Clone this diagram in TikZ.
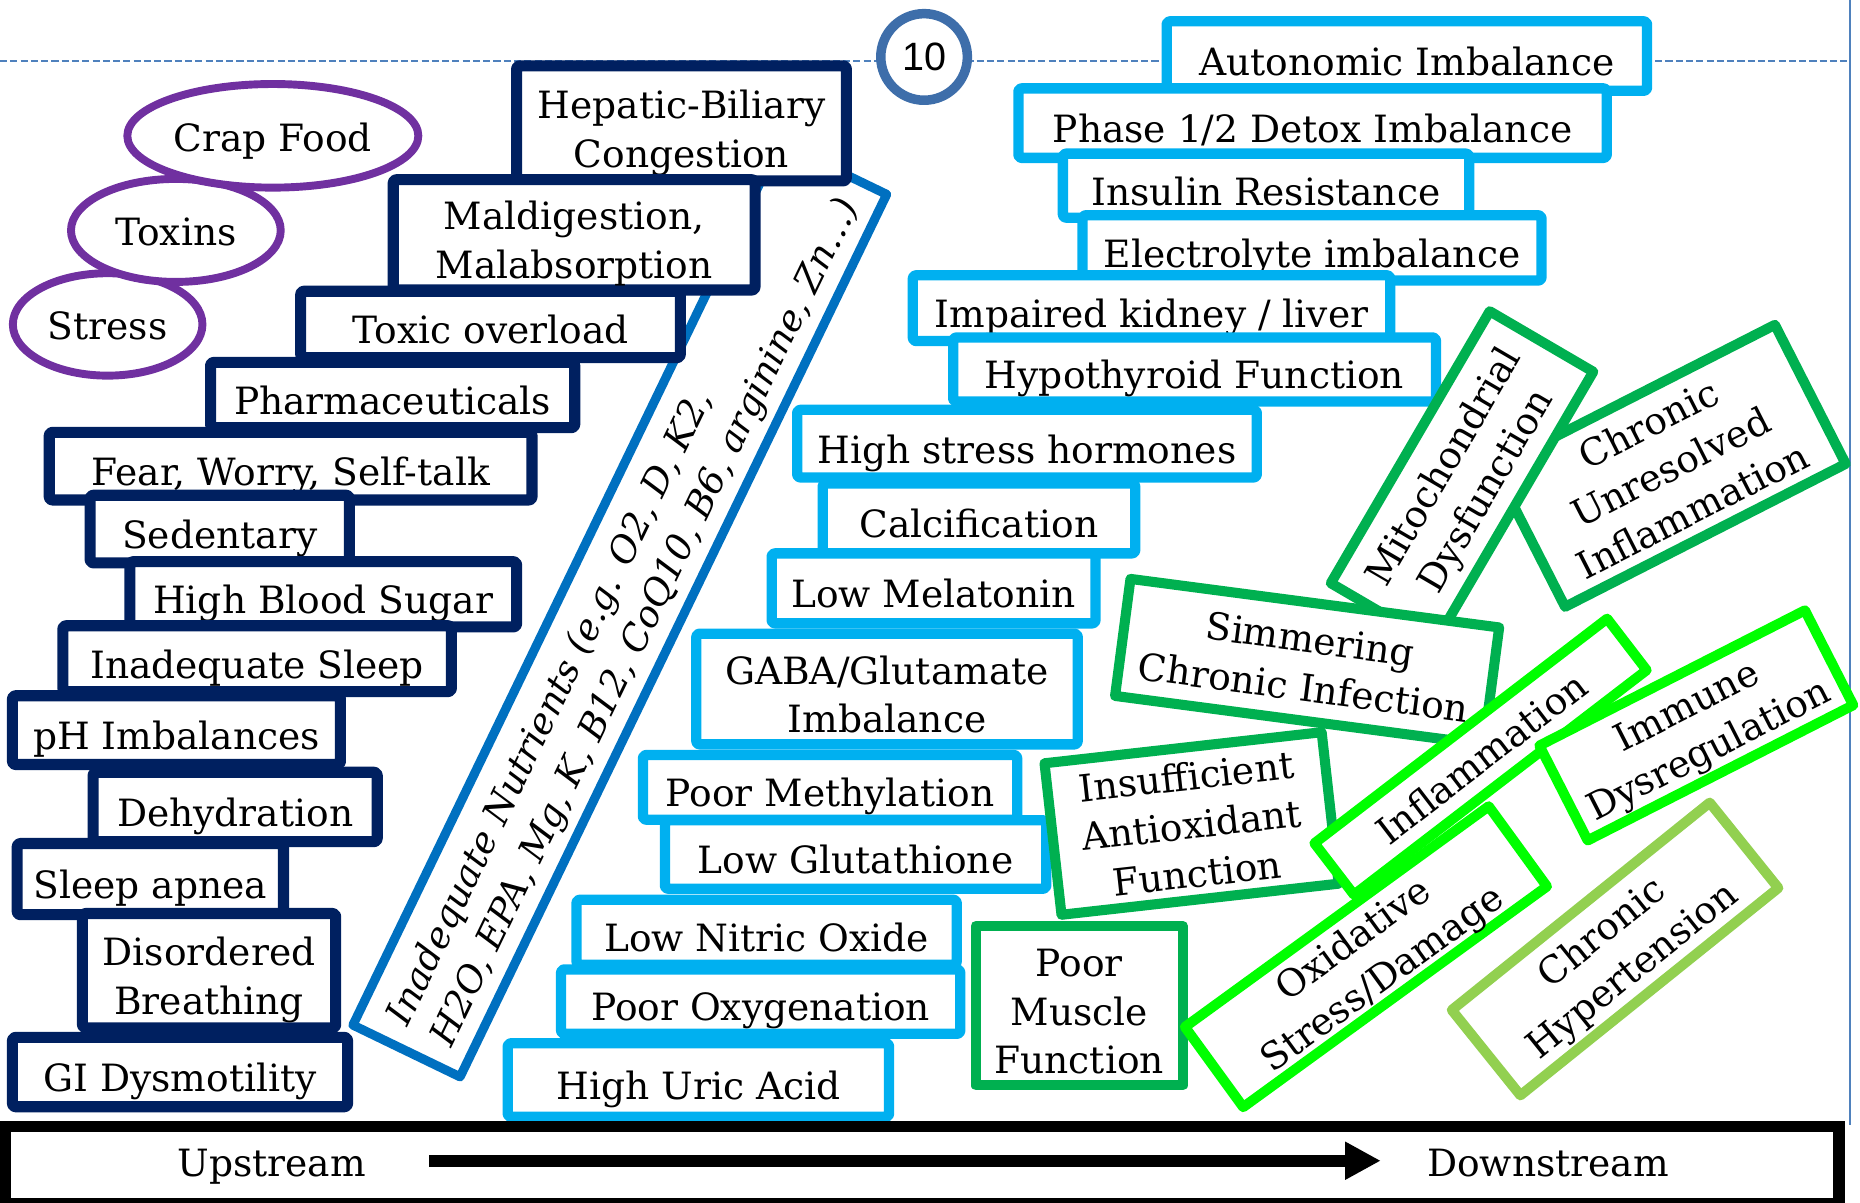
\documentclass[tikz,border=0pt]{standalone}
\usepackage{fontspec}
\usepackage{array}
\setmainfont{DejaVu Serif}
\newfontfamily\numfont{Liberation Sans}
\usetikzlibrary{shapes.geometric,arrows.meta}
\definecolor{navy}{HTML}{002060}
\definecolor{sky}{HTML}{00B0F0}
\definecolor{bandblue}{HTML}{0070C0}
\definecolor{purp}{HTML}{7030A0}
\definecolor{midgreen}{HTML}{00B050}
\definecolor{brightgreen}{HTML}{00FF00}
\definecolor{lightgreen}{HTML}{92D050}
\definecolor{ringblue}{HTML}{3E6EAA}
\definecolor{dashblue}{HTML}{4F81BD}
\newcommand\myrowstrut{\rule[-4.6pt]{0pt}{24.6pt}}
% multi-line text block with fixed line pitch
\newcommand\ml[2][c]{{\renewcommand\arraystretch{0}\begin{tabular}{@{}>{\myrowstrut}#1@{}}#2\end{tabular}}}
% same, drawn slightly lower while keeping its measured extent
\newcommand\mlo[1]{\raisebox{-2.1pt}[\height][\depth]{\ml{#1}}}
% box by outer edges: style, name, x1, y1, x2, y2, text
\newcommand\bx[7]{\node[#1, minimum width={(#5-#3)*0.6pt-5.4pt}, minimum height={(#6-#4)*0.6pt-5.4pt}] (#2) at ({(#3+#5)/2},{(#4+#6)/2}) {\mlo{#7}};}
% rotated box: style, name, cx, cy, angle, outer long, outer short, text
\newcommand\rbx[8]{\node[#1, rotate=#5, minimum width={#6*0.6pt-5.1pt}, minimum height={#7*0.6pt-5.1pt}] (#2) at (#3,#4) {\ml{#8}};}
\begin{document}
\begin{tikzpicture}[x=0.6pt,y=-0.6pt,
  txt/.style={font=\fontsize{19}{24}\selectfont, inner sep=0pt},
  lbl/.style={txt, fill=white, line join=round},
  navybox/.style={lbl, draw=navy, line width=5.6pt, rounded corners=1.5pt},
  skybox/.style={lbl, draw=sky, line width=5.2pt, rounded corners=1.5pt},
  greenbox/.style={lbl, draw=midgreen, line width=5.1pt},
  limebox/.style={lbl, draw=brightgreen, line width=5.1pt},
  lgbox/.style={lbl, draw=lightgreen, line width=5.1pt},
  oval/.style={lbl, ellipse, draw=purp, line width=4pt},
  blackbox/.style={draw=black, line width=5.7pt, inner sep=0pt},
  bandbox/.style={draw=bandblue, line width=4.6pt, fill=white, inner sep=0pt, line join=round,
    font=\fontsize{18.5}{24}\selectfont\itshape},
  bigarrow/.style={line width=6pt, -{Triangle[length=18pt,width=18pt]}}]
\useasboundingbox (0,0) rectangle (1568,1014);
% guide lines
\draw[dashblue, line width=1pt, dash pattern=on 3.6pt off 1.6pt] (0,51.4) -- (1559.5,51.4);
\draw[dashblue, line width=1pt] (1559.5,0) -- (1559.5,948);
% nutrients band
\node[bandbox, rotate=64.2, minimum width={834*0.6pt-4.6pt}, minimum height={108*0.6pt-4.6pt}] (nut) at (522.5,514)
  {\ml[l]{Inadequate Nutrients (e.g. O2, D, K2,\\H2O, EPA, Mg, K, B12, CoQ10, B6, arginine, Zn…)}};
% ovals
\node[oval, minimum width={166.5*0.6pt-4pt}, minimum height={93*0.6pt-4pt}] (stress) at (90.75,273.5) {\ml{Stress}};
\node[oval, minimum width={183.5*0.6pt-4pt}, minimum height={93.5*0.6pt-4pt}] (toxins) at (148.25,194.25) {\ml{Toxins}};
\node[oval, minimum width={252*0.6pt-4pt}, minimum height={94*0.6pt-4pt}] (crap) at (230,114.5) {\ml{Crap Food}};
% navy boxes
\bx{navybox}{hep}{431}{51}{718}{157}{Hepatic-Biliary\\Congestion}
\bx{navybox}{mal}{327}{147}{641}{249}{Maldigestion,\\Malabsorption}
\bx{navybox}{tox}{249}{241}{578}{306}{Toxic overload}
\bx{navybox}{pha}{173}{301}{489}{365}{Pharmaceuticals}
\bx{navybox}{fea}{37}{360}{453}{426}{Fear, Worry, Self-talk}
\bx{navybox}{sed}{71.5}{413}{299}{479}{Sedentary}
\bx{navybox}{hbs}{105}{469}{440}{533}{High Blood Sugar}
\bx{navybox}{isl}{48.5}{523}{385}{587.5}{Inadequate Sleep}
\bx{navybox}{ph}{6}{582}{291.5}{649}{pH Imbalances}
\bx{navybox}{deh}{74}{646.5}{322.5}{714}{Dehydration}
\bx{navybox}{apn}{10}{706.6}{243.5}{775.6}{Sleep apnea}
\bx{navybox}{dis}{65}{765.6}{287.5}{871}{Disordered\\Breathing}
\bx{navybox}{gid}{6}{870}{297.5}{937.5}{GI Dysmotility}
% page number
\node[circle, draw=ringblue, line width=4.8pt, fill=white, inner sep=0pt, minimum size={73*0.6pt},
  font=\numfont\fontsize{20}{24}\selectfont] (num) at (779,48) {10};
% light blue boxes
\bx{skybox}{aut}{979}{13.5}{1393}{81}{Autonomic Imbalance}
\bx{skybox}{pha2}{854}{70}{1359}{137.6}{Phase 1/2 Detox Imbalance}
\bx{skybox}{inr}{891.5}{125}{1243}{188}{Insulin Resistance}
\bx{skybox}{ele}{908}{177}{1304}{241}{Electrolyte imbalance}
\bx{skybox}{kid}{765}{227.6}{1176.5}{292}{Impaired kidney / liver}
\bx{skybox}{hyt}{799}{280}{1215}{343}{Hypothyroid Function}
\bx{skybox}{hsh}{667.5}{341}{1064}{407}{High stress hormones}
\bx{skybox}{cal}{689}{403}{961.5}{471}{Calcification}
\bx{skybox}{mel}{646}{462}{928}{530}{Low Melatonin}
\bx{skybox}{gab}{582.5}{529.7}{913}{632}{GABA/Glutamate\\Imbalance}
\bx{skybox}{met}{537.5}{632}{862}{695.5}{Poor Methylation}
\bx{skybox}{glu}{556}{687}{886.5}{753.7}{Low Glutathione}
\bx{skybox}{nox}{481.5}{754}{811}{817.8}{Low Nitric Oxide}
\bx{skybox}{oxy}{468.5}{812.7}{814}{876}{Poor Oxygenation}
\bx{skybox}{uri}{423.5}{875}{754}{946}{High Uric Acid}
% green boxes
\rbx{greenbox}{cui}{1407.8}{392.7}{27}{274}{140}{Chronic\\Unresolved\\Inflammation}
\rbx{greenbox}{mit}{1232.5}{402.5}{59.7}{274}{109.6}{Mitochondrial\\Dysfunction}
\rbx{greenbox}{iaf}{1004.5}{694.2}{6.4}{243.6}{137}{Insufficient\\Antioxidant\\Function}
\rbx{greenbox}{sci}{1101.9}{557.8}{-7.5}{322}{108}{Simmering\\Chronic Infection}
\bx{greenbox}{pmf}{818}{776}{1001.5}{919.5}{Poor\\Muscle\\Function}
\rbx{limebox}{inf}{1248.1}{637.9}{37.5}{319.5}{63.2}{Inflammation}
\rbx{limebox}{oxi}{1151.5}{806.5}{36}{325}{92}{Oxidative\\Stress/Damage}
\rbx{limebox}{imm}{1430}{611.5}{27}{259.7}{98.2}{Immune\\Dysregulation}
\rbx{lgbox}{hyp}{1361.5}{800}{38.8}{287.5}{100.8}{Chronic\\Hypertension}
% bottom bar
\node[blackbox, minimum width={1555*0.6pt-5.7pt}, minimum height={74*0.6pt-5.7pt}] (frame) at (777.5,982) {};
\node[txt, anchor=base] (up) at (229,992) {Upstream};
\node[txt, anchor=base] (down) at (1305,992) {Downstream};
\coordinate (a1) at (362,978.5);
\coordinate (a2) at (1164,978.5);
\draw[bigarrow] (a1) -- (a2);
\end{tikzpicture}
\end{document}
